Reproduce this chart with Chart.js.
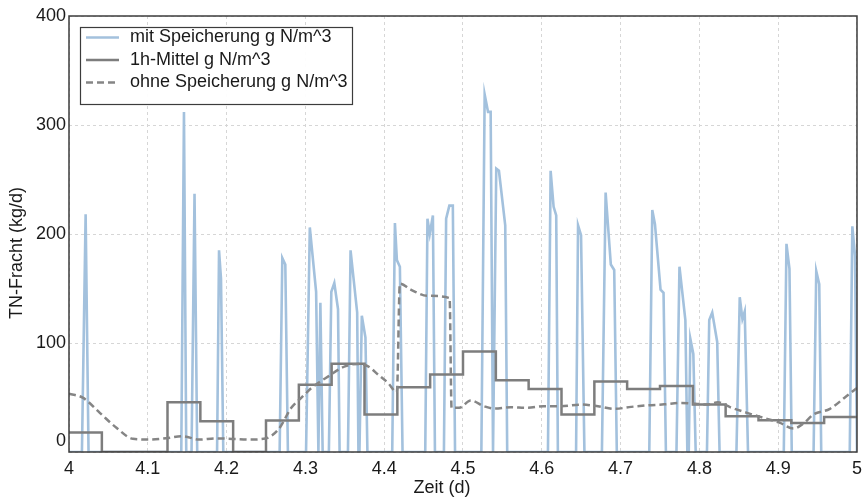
<!DOCTYPE html>
<html><head><meta charset="utf-8">
<script src="https://cdn.jsdelivr.net/npm/chart.js@4.4.1/dist/chart.umd.min.js"></script>
<style>html,body{margin:0;padding:0;background:#fff}</style>
</head><body>
<canvas id="c" width="868" height="500"></canvas>
<script>
const seriesLabels = ['mit Speicherung g N/m^3', '1h-Mittel g N/m^3', 'ohne Speicherung g N/m^3'];
const xTitle = 'Zeit (d)';
const yTitle = 'TN-Fracht (kg/d)';
const yTickValues = [0, 100, 200, 300, 400];

// mit Speicherung (time in d, load in kg/d)
const blueX = [4.0,
 4.0164,4.0211,4.0248, 4.1425,4.1459,4.1488, 4.1555,4.1593,4.1627, 4.1879,4.1904,4.1929,4.1958,
 4.2673,4.2707,4.2745,4.2778, 4.3008,4.3056,4.3136,4.3165, 4.3190,4.3219, 4.3298,4.3329,4.3367,4.3414,4.3434,
 4.3540,4.3573,4.3657,4.3673, 4.3686,4.3716,4.3762,4.3787, 4.4102,4.4136,4.4161,4.4199,4.4233,
 4.4521,4.4549,4.4578,4.4618,4.4644, 4.4758,4.4786,4.4827,4.4871,4.4899, 4.5233,4.5275,4.5318,4.5351,4.5381,
 4.5393,4.5422,4.5456,4.5536,4.5561, 4.6078,4.6112,4.6150,4.6183,4.6204, 4.6435,4.6460,4.6498,4.6541,
 4.6763,4.6810,4.6876,4.6919,4.6952, 4.7364,4.7402,4.7436,4.7507,4.7545,4.7575, 4.7709,4.7747,4.7822,4.7847,
 4.7865,4.7885,4.7923,4.7953, 4.8096,4.8125,4.8163,4.8226,4.8256, 4.8470,4.8512,4.8546,4.8575,4.8617,
 4.9071,4.9105,4.9143,4.9172, 4.9449,4.9483,4.9521,4.9546, 4.9908,4.9941,4.9975,5.0];
const blueY = [0,
 0,218,0, 0,312,0, 0,237,0, 0,185,159,0,
 0,178,172,0, 0,206,147,0, 137,0, 0,147,155,131,0,
 0,185,128,0, 0,125,105,0, 0,210,176,170,0,
 0,214,200,217,0, 0,214,226,226,0, 0,328,312,312,0,
 0,260,258,208,0, 0,258,225,217,0, 0,208,199,0,
 0,238,172,167,0, 0,222,209,149,146,0, 0,170,121,0,
 0,104,90,0, 0,121,128,101,0, 0,142,122,129,0,
 0,191,168,0, 0,166,154,0, 0,207,180,0];

// 1h-Mittel: hour start times and hourly means (last entry closes the final hour)
const hourX = [4.0,4.0417,4.0833,4.125,4.1667,4.2083,4.25,4.2917,4.3333,4.375,4.4167,4.4583,
 4.5,4.5417,4.5833,4.625,4.6667,4.7083,4.75,4.7917,4.8333,4.875,4.9167,4.9583,5.0];
const hourY = [18,0,0,45.6,28.2,0,28.8,61.8,81,34.3,59.3,71.2,92.3,65.8,57.9,34.3,64.6,57.9,60.6,43.5,32.8,29.1,26.7,32.2,32.2];

// ohne Speicherung
const dashX = [4.0,4.0180,4.0391,4.0602,4.0811,4.1021,4.1232,4.1441,4.1652,4.1863,4.2072,4.2282,4.2493,4.2661,
 4.2821,4.2947,4.3081,4.3291,4.3502,4.3670,4.3796,4.3922,4.4048,4.4161,4.4199,4.4342,4.4552,4.4830,4.4855,
 4.4952,4.5098,4.5267,4.5393,4.5603,4.5813,4.6024,4.6233,4.6503,4.6713,4.6923,4.7134,4.7343,4.7554,4.7764,
 4.7974,4.8100,4.8235,4.8395,4.8604,4.8815,4.9025,4.9193,4.9319,4.9445,4.9656,4.9865,5.0];
const dashY = [53.6,49.6,35.9,22.2,12.1,11.4,12.6,14.5,11.4,12.5,12,11.4,12.4,21,
 40.5,49.6,59,69.4,78.6,80.8,78.6,71,63.4,54.8,154.5,148.8,143.3,141.2,40.5,
 40.5,47.2,42,39.8,41,40.5,42,42,43.5,42,39.6,41.4,42.8,43.7,45,
 44.1,43.5,45.6,41,35.9,31.3,26.7,21.5,26.1,34.3,39.6,51.1,58.8];

const zip = (xs, ys) => xs.map((x, i) => ({x: x, y: ys[i]}));

const FONT = "'Liberation Sans', Arial, sans-serif";
const blueColor = '#a3c1dd';
const stepColor = '#7d7d7d';
const dashColor = '#858585';

const framePlugin = {
  id: 'frame',
  afterDatasetsDraw(chart) {
    const {ctx, chartArea: a} = chart;
    ctx.save();
    ctx.strokeStyle = '#3c3c3c';
    ctx.lineWidth = 1.5;
    ctx.strokeRect(a.left, a.top, a.right - a.left, a.bottom - a.top);
    ctx.restore();
  }
};

// shift the axis titles to where the reference places them
const titleShift = {
  id: 'titleShift',
  afterUpdate(chart) {
    const shifts = {x: [-21, 0], y: [0, 19]};
    Object.keys(shifts).forEach(k => {
      const s = chart.scales[k];
      if (!s || s._shiftWrapped) return;
      const orig = s.drawTitle;
      s.drawTitle = function () {
        const ctx = this.ctx;
        ctx.save();
        ctx.translate(shifts[k][0], shifts[k][1]);
        orig.apply(this, arguments);
        ctx.restore();
      };
      s._shiftWrapped = true;
    });
  }
};

const boxLegend = {
  id: 'boxLegend',
  afterDraw(chart) {
    const ctx = chart.ctx;
    const L = 80, T = 27, W = 272, H = 77;
    ctx.save();
    ctx.fillStyle = 'rgba(255,255,255,0.95)';
    ctx.fillRect(L, T, W, H);
    ctx.strokeStyle = '#3c3c3c';
    ctx.lineWidth = 1.2;
    ctx.strokeRect(L + 0.5, T + 0.5, W, H);
    const rows = [37.5, 60, 82.5];
    chart.data.datasets.forEach((ds, i) => {
      const y = rows[i];
      ctx.strokeStyle = ds.borderColor;
      ctx.lineWidth = ds.borderWidth;
      ctx.setLineDash(ds.borderDash || []);
      ctx.beginPath();
      ctx.moveTo(86, y);
      ctx.lineTo(119, y);
      ctx.stroke();
      ctx.setLineDash([]);
      ctx.fillStyle = '#1a1a1a';
      ctx.font = '18px ' + FONT;
      ctx.textBaseline = 'middle';
      ctx.textAlign = 'left';
      ctx.fillText(ds.label, 130, y);
    });
    ctx.restore();
  }
};

new Chart(document.getElementById('c'), {
  type: 'line',
  data: {
    datasets: [
      {label: seriesLabels[0], data: zip(blueX, blueY), borderColor: blueColor, borderWidth: 2.6,
       pointRadius: 0, tension: 0, order: 3},
      {label: seriesLabels[1], data: zip(hourX, hourY), borderColor: stepColor, borderWidth: 2.5,
       pointRadius: 0, stepped: 'before', order: 2},
      {label: seriesLabels[2], data: zip(dashX, dashY), borderColor: dashColor, borderWidth: 2.5,
       borderDash: [7, 4], pointRadius: 0, cubicInterpolationMode: 'monotone', order: 1}
    ]
  },
  options: {
    responsive: false,
    animation: false,
    devicePixelRatio: 1,
    layout: {padding: {left: 0, right: 6, top: 16, bottom: 0}},
    plugins: {legend: {display: false}, tooltip: {enabled: false}},
    scales: {
      x: {
        type: 'linear', min: 4, max: 5,
        ticks: {stepSize: 0.1, padding: 6, color: '#1a1a1a', maxRotation: 0, autoSkip: false,
          font: {family: FONT, size: 18},
          callback: v => String(Number(Number(v).toFixed(1)))},
        grid: {color: '#d6d6d6', lineWidth: 1, drawTicks: false},
        border: {display: false, dash: [3, 3]},
        title: {display: true, text: xTitle, color: '#1a1a1a', font: {family: FONT, size: 18},
          padding: {top: 0, bottom: 1}},
        afterFit: s => { s.height = 48; }
      },
      y: {
        type: 'linear', min: 0, max: 400,
        afterBuildTicks: s => { s.ticks = yTickValues.map(v => ({value: v})); },
        ticks: {padding: 3, color: '#1a1a1a', font: {family: FONT, size: 18},
          callback: v => v === 0 ? ['0', ''] : String(v)},
        grid: {color: '#d6d6d6', lineWidth: 1, drawTicks: false},
        border: {display: false, dash: [3, 3]},
        title: {display: true, text: yTitle, color: '#1a1a1a', font: {family: FONT, size: 18},
          padding: {top: 6, bottom: 0}},
        afterFit: s => { s.width = 69; }
      }
    }
  },
  plugins: [framePlugin, titleShift, boxLegend]
});
</script>
</body></html>
